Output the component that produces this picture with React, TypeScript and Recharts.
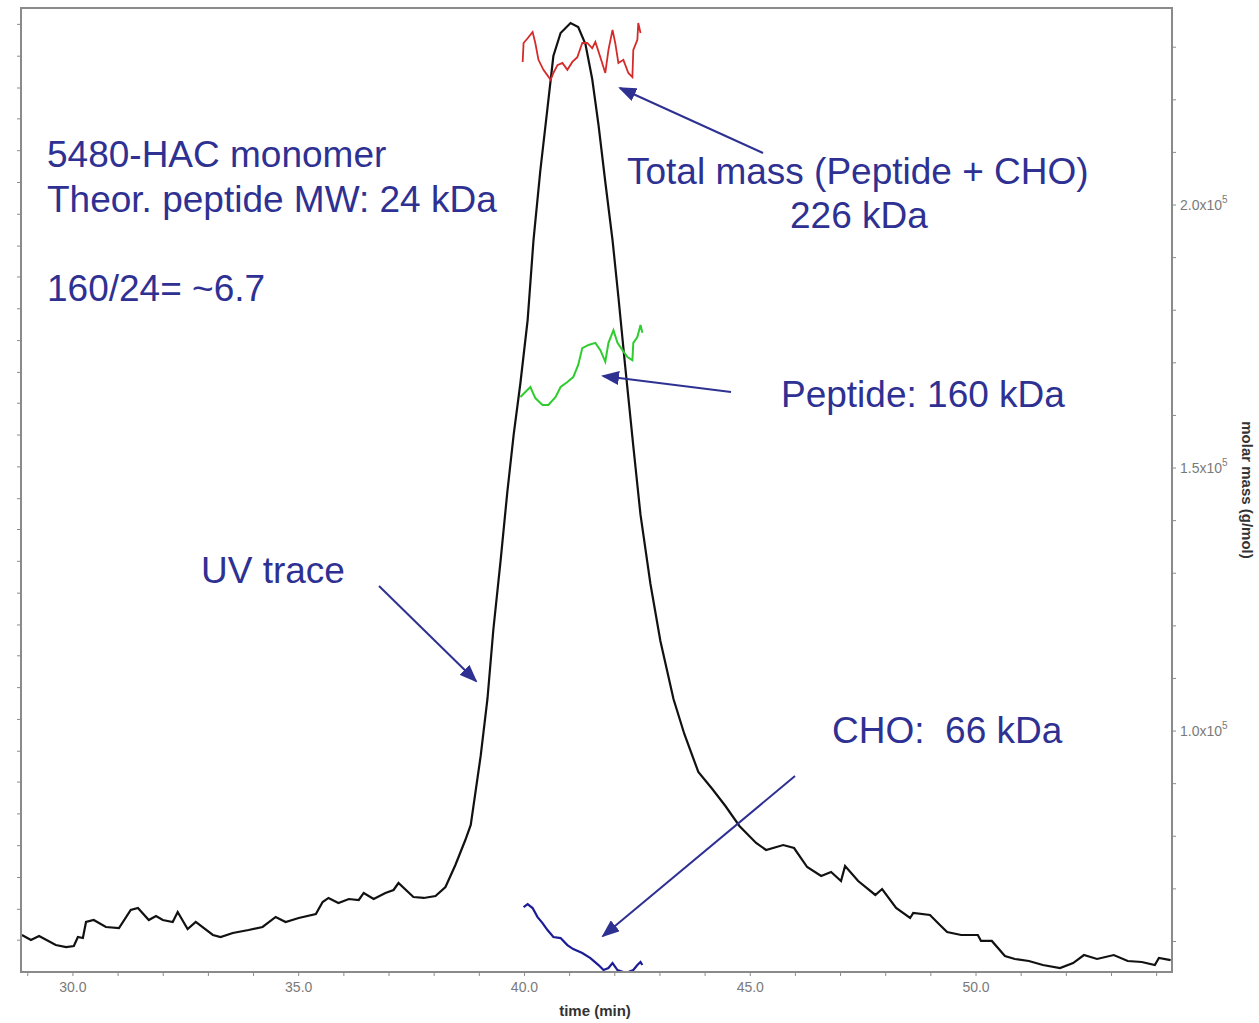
import { ComposedChart, Line, XAxis, YAxis } from "recharts";

// UV trace (relative absorbance, 0-100) vs time (min)
const uvTime = [
  28.87, 29.07, 29.25, 29.62, 29.85, 30.02, 30.11, 30.22, 30.29, 30.46, 30.73, 31.02,
  31.28, 31.44, 31.68, 31.84, 31.99, 32.21, 32.32, 32.54, 32.72, 33.1, 33.27, 33.54,
  33.89, 34.2, 34.49, 34.71, 35.0, 35.38, 35.53, 35.66, 35.88, 36.11, 36.33, 36.44,
  36.66, 36.92, 37.1, 37.21, 37.54, 37.77, 38.03, 38.25, 38.47, 38.69, 38.81, 39.03,
  39.18, 39.31, 39.47, 39.62, 39.76, 39.91, 40.07, 40.2, 40.35, 40.51, 40.64, 40.8,
  41.02, 41.19, 41.35, 41.5, 41.64, 41.79, 41.95, 42.08, 42.23, 42.41, 42.57, 42.79,
  43.01, 43.3, 43.54, 43.85, 44.16, 44.45, 44.76, 45.13, 45.35, 45.73, 45.97, 46.26,
  46.57, 46.79, 47.01, 47.1, 47.39, 47.77, 47.92, 48.23, 48.54, 48.61, 48.98, 49.2,
  49.36, 49.67, 50.04, 50.11, 50.35, 50.64, 50.86, 51.17, 51.48, 51.86, 52.15, 52.39,
  52.68, 53.05, 53.36, 53.67, 53.96, 54.05, 54.31,
];
const uvAbs = [
  3.84, 3.32, 3.73, 2.8, 2.59, 2.7, 3.63, 3.53, 5.19, 5.39, 4.67, 4.56,
  6.43, 6.64, 5.39, 5.81, 5.39, 5.19, 6.22, 4.46, 5.19, 3.84, 3.63, 4.05,
  4.36, 4.67, 5.71, 5.19, 5.6, 6.02, 7.26, 7.68, 7.16, 7.57, 7.47, 8.2,
  7.57, 8.2, 8.51, 9.23, 7.78, 7.68, 7.88, 8.82, 11.1, 13.69, 15.25, 22.41,
  28.32, 35.48, 42.63, 49.79, 55.71, 61.1, 67.63, 75.93, 83.09, 89.63, 95.02, 97.41,
  98.44, 98.03, 96.27, 92.63, 87.86, 81.95, 75.93, 70.02, 62.86, 54.56, 47.41, 40.25,
  34.34, 28.32, 24.69, 20.75, 18.98, 17.22, 15.15, 13.38, 12.66, 13.17, 12.86, 10.89,
  9.96, 10.37, 9.44, 11.0, 9.44, 7.99, 8.61, 6.64, 5.6, 6.12, 5.91, 4.88,
  4.15, 3.84, 3.84, 3.22, 3.22, 1.66, 1.35, 1.14, 0.73, 0.41, 0.93, 1.76,
  1.35, 1.76, 1.14, 1.04, 0.73, 1.45, 1.24,
];

// Total mass (peptide + CHO), g/mol
const totalTime = [
  39.96, 39.98, 40.07, 40.18, 40.24, 40.31, 40.42, 40.58, 40.64, 40.73, 40.84, 40.95,
  41.06, 41.17, 41.28, 41.39, 41.5, 41.57, 41.68, 41.79, 41.86, 41.95, 42.01, 42.08,
  42.19, 42.3, 42.39, 42.41, 42.5, 42.52, 42.57,
];
const totalMass = [
  227200, 230800, 231700, 232900, 230800, 227600, 225700, 223800, 225100, 226600, 227000, 225700,
  227200, 228100, 230800, 230800, 229800, 231000, 228100, 225100, 229500, 233300, 230800, 227000,
  227600, 225100, 224300, 229500, 231400, 234600, 232700,
];

// Peptide mass, g/mol
const peptideTime = [
  39.91, 40.02, 40.13, 40.24, 40.4, 40.53, 40.69, 40.8, 40.95, 41.08, 41.19, 41.28,
  41.42, 41.57, 41.68, 41.79, 41.86, 41.97, 42.06, 42.17, 42.28, 42.39, 42.41, 42.5,
  42.57, 42.61,
];
const peptideMass = [
  163500, 164450, 165400, 163300, 162000, 162000, 163500, 165400, 166350, 167300, 169600, 172800,
  173400, 173800, 172400, 170200, 173800, 176200, 173800, 172400, 171100, 170500, 173800, 174900,
  177200, 175700,
];

// CHO mass, g/mol
const choTime = [
  39.98, 40.07, 40.18, 40.29, 40.4, 40.51, 40.64, 40.8, 40.95, 41.08, 41.28, 41.46,
  41.64, 41.75, 41.86, 41.95, 42.06, 42.19, 42.3, 42.41, 42.5, 42.57, 42.61,
];
const choMass = [
  66540, 67110, 66350, 64640, 63500, 62170, 60840, 60650, 59320, 58560, 57800, 56850,
  55520, 54570, 54950, 55900, 54570, 54200, 54200, 54570, 55520, 56090, 55520,
];

const timeTicks = [
  29, 30, 31, 32, 33, 34, 35, 36, 37, 38, 39, 40, 41, 42, 43, 44, 45, 46, 47, 48, 49, 50,
  51, 52, 53, 54,
];
const massTicks = [
  60000, 70000, 80000, 90000, 100000, 110000, 120000, 130000, 140000, 150000, 160000,
  170000, 180000, 190000, 200000, 210000, 220000, 230000,
];
const uvTicks = [
  3.3, 6.5, 9.8, 13.1, 16.4, 19.7, 22.9, 26.2, 29.5, 32.8, 36.0, 39.3, 42.6, 45.9, 49.1,
  52.4, 55.7, 59.0, 62.2, 65.5, 68.8, 72.1, 75.3, 78.6, 81.9, 85.2, 88.5, 91.7, 95.0, 98.3,
];

const uvData = uvTime.map((t, i) => ({ t, uv: uvAbs[i] }));
const totalData = totalTime.map((t, i) => ({ t, mass: totalMass[i] }));
const peptideData = peptideTime.map((t, i) => ({ t, mass: peptideMass[i] }));
const choData = choTime.map((t, i) => ({ t, mass: choMass[i] }));

const FONT = "'Liberation Sans', Arial, sans-serif";
const NAVY = "#2E3192";
const AXIS = "#8a8a8a";

const MassTick = (props: any) => {
  const { x, y, payload } = props;
  const v = payload.value;
  if (v % 50000 !== 0) return <g />;
  return (
    <text x={x + 2} y={y + 5} fill="#7a7a7a" fontSize={14} fontFamily={FONT}>
      {(v / 100000).toFixed(1)}x10
      <tspan dy={-7} fontSize={10}>5</tspan>
    </text>
  );
};

const TimeTick = (props: any) => {
  const { x, y, payload } = props;
  const v = payload.value;
  if (v % 5 !== 0) return <g />;
  return (
    <text x={x} y={y + 14} textAnchor="middle" fill="#7a7a7a" fontSize={14} fontFamily={FONT}>
      {v.toFixed(1)}
    </text>
  );
};

// left axis: tick marks only, labels are cut off in the original
const BlankTick = () => <g />;

const Arrow = ({ x1, y1, x2, y2 }: { x1: number; y1: number; x2: number; y2: number }) => (
  <line x1={x1} y1={y1} x2={x2} y2={y2} stroke={NAVY} strokeWidth={2} markerEnd="url(#head)" />
);

export default function App() {
  return (
    <div style={{ position: "absolute", left: 0, top: 0, width: 1259, height: 1023, background: "#fff" }}>
      <ComposedChart
        width={1259}
        height={1023}
        margin={{ top: 8, right: 0, bottom: 0, left: 0 }}
      >
        <XAxis
          dataKey="t"
          type="number"
          domain={[28.85, 54.34]}
          ticks={timeTicks}
          interval={0}
          allowDataOverflow
          height={51}
          tick={<TimeTick />}
          tickSize={4}
          tickLine={{ stroke: AXIS }}
          axisLine={{ stroke: AXIS, strokeWidth: 2 }}
        />
        <YAxis
          yAxisId="uv"
          type="number"
          domain={[0, 100]}
          ticks={uvTicks}
          interval={0}
          allowDataOverflow
          width={21}
          tick={<BlankTick />}
          tickSize={4}
          tickLine={{ stroke: AXIS }}
          axisLine={{ stroke: AXIS, strokeWidth: 2 }}
        />
        <YAxis
          yAxisId="mass"
          orientation="right"
          type="number"
          domain={[54200, 237450]}
          ticks={massTicks}
          interval={0}
          allowDataOverflow
          width={87}
          tick={<MassTick />}
          tickSize={4}
          tickLine={{ stroke: AXIS }}
          axisLine={{ stroke: AXIS, strokeWidth: 2 }}
        />
        <Line
          data={uvData}
          dataKey="uv"
          yAxisId="uv"
          type="linear"
          stroke="#111"
          strokeWidth={2.2}
          dot={false}
          isAnimationActive={false}
        />
        <Line
          data={totalData}
          dataKey="mass"
          yAxisId="mass"
          type="linear"
          stroke="#D42A2A"
          strokeWidth={1.8}
          dot={false}
          isAnimationActive={false}
        />
        <Line
          data={peptideData}
          dataKey="mass"
          yAxisId="mass"
          type="linear"
          stroke="#2ECC2E"
          strokeWidth={2}
          dot={false}
          isAnimationActive={false}
        />
        <Line
          data={choData}
          dataKey="mass"
          yAxisId="mass"
          type="linear"
          stroke="#1C1C96"
          strokeWidth={2.2}
          dot={false}
          isAnimationActive={false}
        />
      </ComposedChart>
      <svg
        width={1259}
        height={1023}
        style={{ position: "absolute", left: 0, top: 0, pointerEvents: "none" }}
      >
        <defs>
          <marker
            id="head"
            markerWidth={18}
            markerHeight={14}
            refX={16}
            refY={7}
            orient="auto"
            markerUnits="userSpaceOnUse"
          >
            <polygon points="0,0 18,7 0,14" fill={NAVY} />
          </marker>
        </defs>
        <rect x={21} y={8} width={1151} height={964} fill="none" stroke={AXIS} strokeWidth={2} />
        <g fill={NAVY} fontFamily={FONT} fontSize={37}>
          <text x={47} y={167}>5480-HAC monomer</text>
          <text x={47} y={212}>Theor. peptide MW: 24 kDa</text>
          <text x={47} y={301}>160/24= ~6.7</text>
          <text x={627} y={184}>Total mass (Peptide + CHO)</text>
          <text x={790} y={228}>226 kDa</text>
          <text x={781} y={407}>Peptide: 160 kDa</text>
          <text x={201} y={583}>UV trace</text>
          <text x={832} y={743} style={{ whiteSpace: "pre" }}>CHO:  66 kDa</text>
        </g>
        <Arrow x1={763} y1={153} x2={620} y2={88} />
        <Arrow x1={731} y1={392} x2={603} y2={376} />
        <Arrow x1={379} y1={586} x2={476} y2={681} />
        <Arrow x1={795} y1={776} x2={603} y2={936} />
        <text x={595} y={1016} textAnchor="middle" fontFamily={FONT} fontSize={15} fontWeight="bold" fill="#333">
          time (min)
        </text>
        <text
          x={1242}
          y={490}
          textAnchor="middle"
          fontFamily={FONT}
          fontSize={15}
          fontWeight="bold"
          fill="#333"
          transform="rotate(90 1242 490)"
        >
          molar mass (g/mol)
        </text>
      </svg>
    </div>
  );
}
